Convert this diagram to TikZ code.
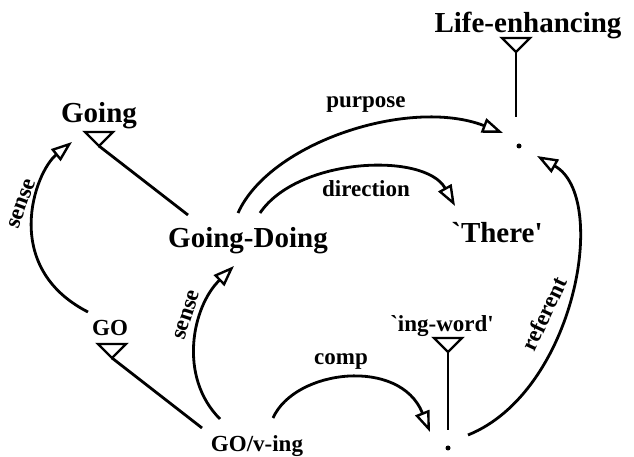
\documentclass[tikz,border=0pt]{standalone}
\usepackage{fontspec}
\setmainfont{Liberation Serif}
\usetikzlibrary{arrows.meta,calc}
\newcommand{\grv}{\textasciigrave}
\newcommand{\apo}{\textquotesingle}
\begin{document}
\begin{tikzpicture}[x=1pt,y=1pt,
  big/.style={inner sep=0pt, anchor=base, font=\fontsize{29}{32}\selectfont\bfseries},
  small/.style={inner sep=0pt, anchor=base, font=\fontsize{23}{26}\selectfont\bfseries},
  edgelabel/.style={inner sep=0pt, font=\fontsize{23}{26}\selectfont\bfseries},
  dot/.style={circle, fill, inner sep=0pt, minimum size=5pt},
  link/.style={line width=2.8pt},
  rel/.style={line width=2.8pt, -{Triangle[open, length=21pt, width=15pt, line width=2.4pt]}},
  isatri/.style={line width=2.4pt, line join=miter},
]
\path[use as bounding box] (0,0) rectangle (634,457);

% concepts
\node[big]   (LE)    at (528,424) {Life-enhancing};
\node[big]   (Going) at (99,334)  {Going};
\node[big]   (GD)    at (248,209) {Going-Doing};
\node[big]   (There) at (497,214) {\grv There\apo};
\node[small] (GO)    at (110,121) {GO};
\node[small] (GOv)   at (257,5)   {GO/v-ing};
\node[small] (ingw)  at (442,125) {\grv ing-word\apo};
\node[dot]   (dot1)  at (519,311) {};
\node[dot]   (dot2)  at (448,9)   {};

% isa triangles under the supercategories
\coordinate (LEt)    at ($(LE.base)+(-12,-19)$);
\coordinate (Goingt) at ($(Going.base)+(0,-23)$);
\coordinate (GOt)    at ($(GO.base)+(2,-22)$);
\coordinate (ingwt)  at ($(ingw.base)+(6,-20)$);
\foreach \t in {LEt,Goingt,GOt,ingwt}
  \draw[isatri] (\t) -- ++(-14,14) -- ++(28,0) -- cycle;

% isa links
\draw[link] ($(dot1)+(-3,29)$) -- (LEt);
\draw[link] ($(GD.base)+(-60,33)$) -- (Goingt);
\draw[link] ($(GOv.base)+(-55,24)$) -- (GOt);
\draw[link] ($(dot2)+(0,18)$) -- (ingwt);

% relations
\draw[rel] ($(GD.base)+(-10,35)$) .. controls (270,315) and (410,360) .. ($(dot1)+(-16,13)$);
\node[small] (purpose) at (366,349) {purpose};

\draw[rel] ($(GD.base)+(12,35)$) .. controls (298,300) and (425,305) .. ($(There.base)+(-42,37)$);
\node[small] (direction) at (366,260) {direction};

\draw[rel] ($(GOv.base)+(16,34)$) .. controls (295,88) and (400,100) .. ($(dot2)+(-18,16)$);
\node[small] (comp) at (341,92) {comp};

\draw[rel] ($(dot2)+(20,13)$) .. controls (575,65) and (610,260) .. ($(dot1)+(18,-10)$);
\node[edgelabel, rotate=65] (referent) at (544,143) {referent};

\draw[rel] ($(GOv.base)+(-37,33)$) .. controls (178,80) and (192,150) .. ($(GD.base)+(-14,-18)$);
\node[edgelabel, rotate=72] (sense2) at (187,142) {sense};

\draw[rel] ($(GO.base)+(-22,24)$) .. controls (0,190) and (35,285) .. ($(Going.base)+(-27,-19)$);
\node[edgelabel, rotate=70] (sense1) at (22,253) {sense};
\end{tikzpicture}
\end{document}
